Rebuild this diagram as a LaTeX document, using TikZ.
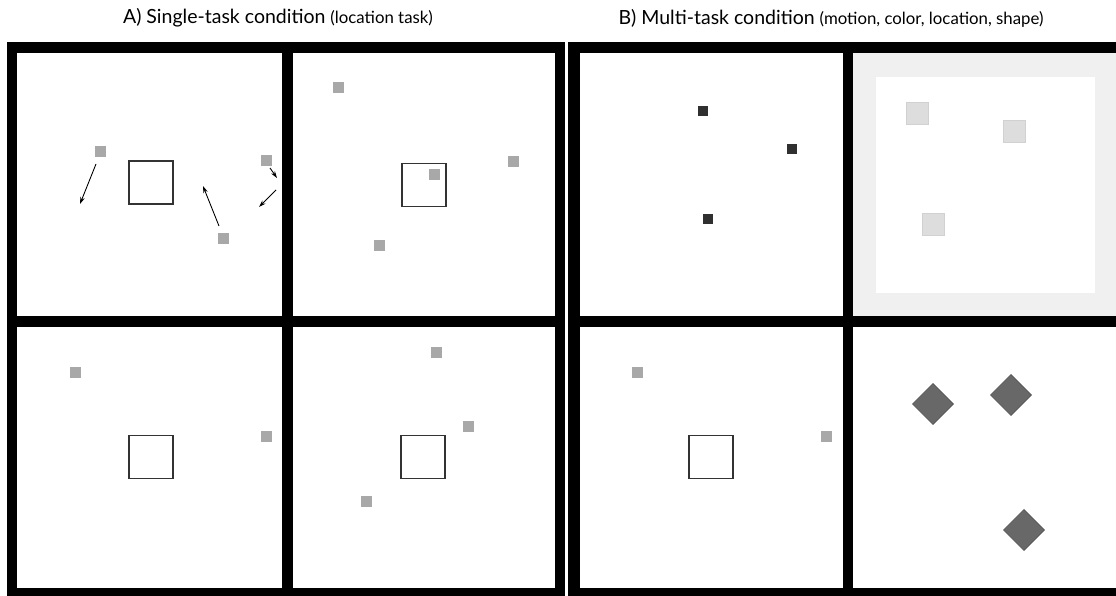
\documentclass[tikz,border=0pt]{standalone}
\usepackage{fontspec}
\setmainfont{Lato}
\usetikzlibrary{arrows.meta}
\definecolor{stimgray}{HTML}{A8A8A8}
\definecolor{stimdark}{HTML}{303030}
\definecolor{stimlight}{HTML}{DDDDDD}
\definecolor{framegray}{HTML}{F0F0F0}
\definecolor{shapegray}{HTML}{686868}
\begin{document}
\begin{tikzpicture}[x=1pt,y=-1pt,
  stim/.style={fill=stimgray,minimum size=11pt,inner sep=0pt},
  darkstim/.style={fill=stimdark,minimum size=10pt,inner sep=0pt},
  lightstim/.style={fill=stimlight,draw=black!18,line width=.6pt,minimum size=22pt,inner sep=0pt},
  shapestim/.style={fill=shapegray,draw=black!70,line width=.6pt,minimum size=29pt,inner sep=0pt,rotate=45},
  fixbox/.style={draw=black!80,line width=1.1pt,minimum width=44pt,minimum height=43pt,inner sep=0pt},
  motion/.style={-{Stealth[length=7pt,width=4.5pt]},line width=.9pt},
  title/.style={font=\fontsize{19.5}{23}\selectfont,inner sep=0pt}]
\useasboundingbox(0,0)rectangle(1116,596);
\fill[white](0,0)rectangle(1116,596);
\node[title](titleA)at(278,18){A) Single-task condition {\fontsize{16.8}{20}\selectfont(location task)}};
\node[title](titleB)at(831,18){B) Multi-task condition {\fontsize{16.8}{20}\selectfont(motion, color, location, shape)}};
\fill(7,42)rectangle(565,596);\fill(568,42)rectangle(1116,596);
\foreach \xa/\xb in {17/282,293/555,580/843}{\fill[white](\xa,53)rectangle(\xb,316);\fill[white](\xa,327)rectangle(\xb,588);}
\fill[framegray](853,53)rectangle(1116,316);\fill[white](876,77)rectangle(1095,293);
\fill[white](853,327)rectangle(1116,588);
\foreach \x/\y [count=\i] in {151/182.5,424/185,151/457,423/457,711/457}{\node[fixbox](box\i)at(\x,\y){};}
\foreach \x/\y [count=\i] in {100.5/152,266.5/160.5,223.5/238.5}{\node[stim](tl\i)at(\x,\y){};}
\foreach \x/\y [count=\i] in {338/88,513/162,434/175,379/245}{\node[stim](tr\i)at(\x,\y){};}
\foreach \x/\y [count=\i] in {75/372,266/436}{\node[stim](bl\i)at(\x,\y){};}
\foreach \x/\y [count=\i] in {436/352,468/426,366/501}{\node[stim](br\i)at(\x,\y){};}
\foreach \x/\y [count=\i] in {637/372,826/436}{\node[stim](mbl\i)at(\x,\y){};}
\foreach \x/\y [count=\i] in {703/111,792/149,708/219}{\node[darkstim](col\i)at(\x,\y){};}
\foreach \x/\y [count=\i] in {917/113,1014/131,933/224}{\node[lightstim](loc\i)at(\x,\y){};}
\foreach \x/\y [count=\i] in {933/404,1011/395,1024/530}{\node[shapestim](shp\i)at(\x,\y){};}
\coordinate(m1a)at(96,164);\coordinate(m1b)at(80,204);
\coordinate(m2a)at(219,226);\coordinate(m2b)at(203,186);
\coordinate(m3a)at(270,168);\coordinate(m3b)at(277,178);
\coordinate(m4a)at(276,190);\coordinate(m4b)at(259,207);
\foreach \i in {1,...,4}{\draw[motion](m\i a)--(m\i b);}
\end{tikzpicture}
\end{document}
